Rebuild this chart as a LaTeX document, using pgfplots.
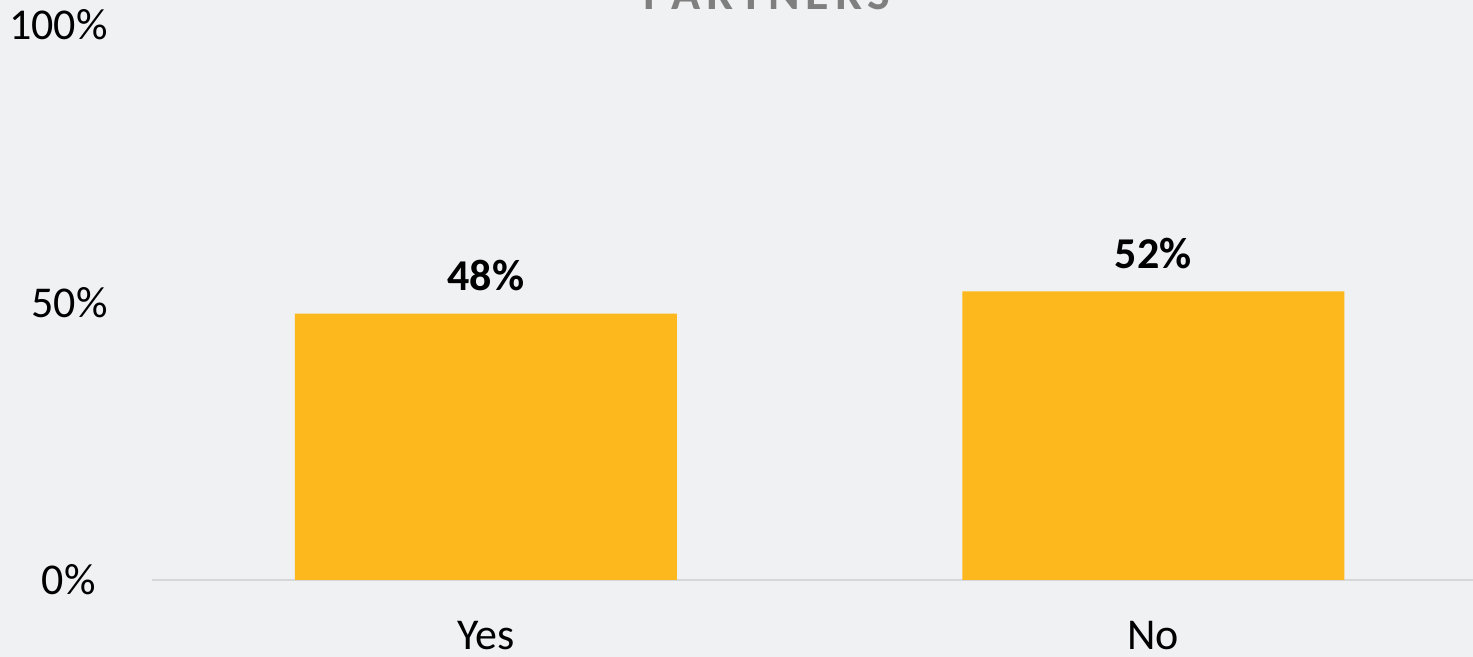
\documentclass[border=0pt]{standalone}
\usepackage{pgfplots}
\pgfplotsset{compat=1.18}
\usepackage{fontspec}
\setmainfont{Carlito}
\definecolor{bgc}{HTML}{F0F1F3}
\definecolor{barc}{HTML}{FDB81E}
\definecolor{axc}{HTML}{D6D7D9}
\definecolor{ttl}{HTML}{7F7F7F}
\begin{document}
\begin{tikzpicture}
\useasboundingbox (0,0) rectangle (736.5pt,328.5pt);
\clip (0,0) rectangle (736.5pt,328.5pt);
\fill[bgc] (0,0) rectangle (736.5pt,328.5pt);
% title, cut off at the top like the source slide
\node[anchor=base, text=ttl, inner sep=0pt, font=\fontsize{24}{28}\selectfont\bfseries\addfontfeature{LetterSpace=12}]
  at (383.5pt,323.5pt) {PARTNERS};
\begin{axis}[
  at={(76pt,38.5pt)}, anchor=south west, scale only axis,
  width=660.5pt, height=277.5pt,
  ybar, bar width=191pt,
  xmin=-0.5, xmax=1.479, ymin=0, ymax=100,
  xtick={0,1}, xticklabels={Yes,No},
  ytick={0,50,100}, yticklabels={0\%\kern6pt,50\%,100\%},
  major tick length=0pt,
  axis lines*=left,
  x axis line style={draw=axc, line width=1pt},
  y axis line style={draw=none},
  tick label style={font=\fontsize{22}{26}\selectfont, text=black},
  yticklabel style={anchor=east, inner sep=0pt, xshift=-22pt},
  xticklabel style={anchor=base, inner sep=0pt, yshift=-35pt},
  clip=false,
  nodes near coords, point meta=explicit symbolic,
  nodes near coords style={font=\fontsize{22}{26}\selectfont\bfseries, anchor=south, inner sep=0pt, yshift=11pt, text=black},
]
\addplot[fill=barc, draw=none] coordinates {(0,48)[48\%] (1,52)[52\%]};
\end{axis}
\end{tikzpicture}
\end{document}
